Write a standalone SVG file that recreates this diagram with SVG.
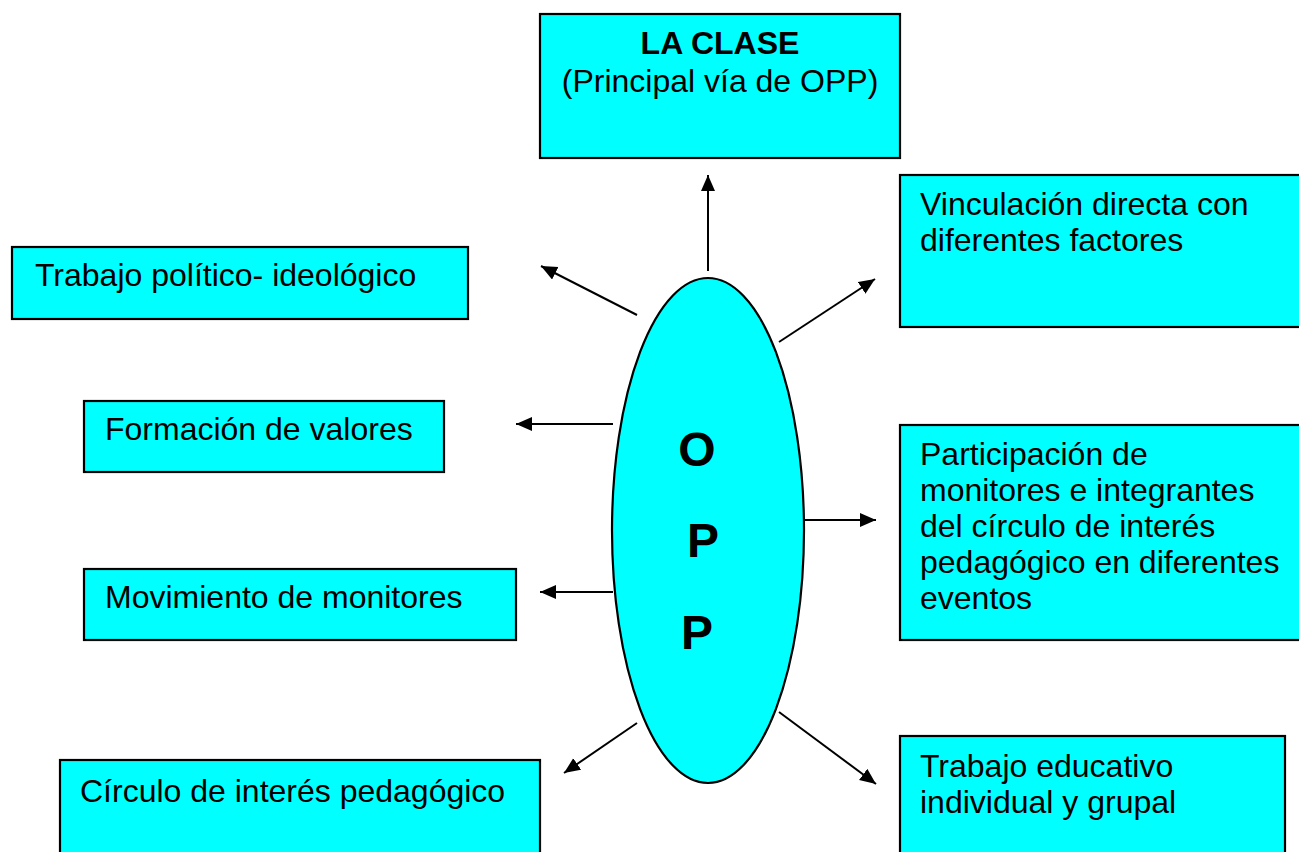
<svg xmlns="http://www.w3.org/2000/svg" width="1299" height="852" viewBox="0 0 1299 852">
<style>
.box{fill:#00FFFF;stroke:#000;stroke-width:2.2}
.t{font-family:"Liberation Sans",Arial,sans-serif;font-size:32px;fill:#000}
.b{font-weight:bold}
.big{font-family:"Liberation Sans",Arial,sans-serif;font-size:48px;font-weight:bold;text-anchor:middle}
.c line{stroke:#000;stroke-width:2}
</style>
<defs>
<marker id="ah" markerUnits="userSpaceOnUse" markerWidth="18" markerHeight="16" refX="16" refY="7" orient="auto">
<path d="M0,0 L16,7 L0,14 z" fill="#000"/>
</marker>
</defs>
<rect width="1299" height="852" fill="#fff"/>
<g id="clase"><rect class="box" x="540" y="14" width="360" height="144"/>
<text class="t b" x="720" y="54" text-anchor="middle">LA CLASE</text>
<text class="t" x="720" y="92" text-anchor="middle">(Principal vía de OPP)</text></g>
<g id="vinculacion"><rect class="box" x="900" y="175" width="420" height="152"/>
<text class="t" x="920" y="215">Vinculación directa con</text>
<text class="t" x="920" y="251">diferentes factores</text></g>
<g id="politico"><rect class="box" x="12" y="247" width="456" height="72"/>
<text class="t" x="35" y="286">Trabajo político- ideológico</text></g>
<g id="valores"><rect class="box" x="84" y="401" width="360" height="71"/>
<text class="t" x="105" y="440">Formación de valores</text></g>
<g id="participacion"><rect class="box" x="900" y="425" width="420" height="215"/>
<text class="t" x="920" y="465">Participación de</text>
<text class="t" x="920" y="501">monitores e integrantes</text>
<text class="t" x="920" y="537">del círculo de interés</text>
<text class="t" x="920" y="573">pedagógico en diferentes</text>
<text class="t" x="920" y="609">eventos</text></g>
<g id="monitores"><rect class="box" x="84" y="569" width="432" height="71"/>
<text class="t" x="105" y="608">Movimiento de monitores</text></g>
<g id="circulo"><rect class="box" x="60" y="760" width="480" height="110"/>
<text class="t" x="80" y="802">Círculo de interés pedagógico</text></g>
<g id="educativo"><rect class="box" x="900" y="736" width="385" height="140"/>
<text class="t" x="920" y="777">Trabajo educativo</text>
<text class="t" x="920" y="813">individual y grupal</text></g>
<g id="opp"><ellipse class="box" cx="708" cy="530.5" rx="96" ry="252.5"/>
<text class="big" x="697" y="466">O</text>
<text class="big" x="703" y="557">P</text>
<text class="big" x="697" y="649">P</text></g>
<g class="c" id="connectors">
<line x1="708" y1="271" x2="708" y2="175" marker-end="url(#ah)"/>
<line x1="637" y1="315" x2="541" y2="266" marker-end="url(#ah)"/>
<line x1="779" y1="342" x2="875" y2="279" marker-end="url(#ah)"/>
<line x1="613" y1="424" x2="516" y2="424" marker-end="url(#ah)"/>
<line x1="613" y1="592" x2="540" y2="592" marker-end="url(#ah)"/>
<line x1="804" y1="520" x2="876" y2="520" marker-end="url(#ah)"/>
<line x1="637" y1="723" x2="564" y2="773" marker-end="url(#ah)"/>
<line x1="779" y1="712" x2="876" y2="784" marker-end="url(#ah)"/>
</g>
</svg>
